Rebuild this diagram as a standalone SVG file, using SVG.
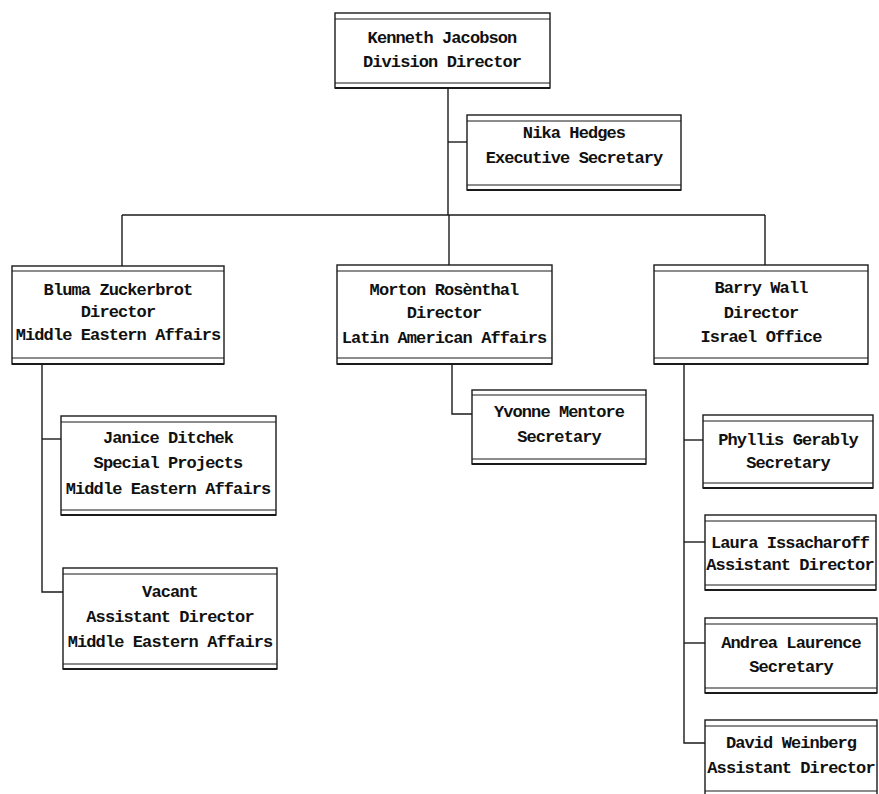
<svg xmlns="http://www.w3.org/2000/svg" width="879" height="794" viewBox="0 0 879 794">
<style>
  .bg { fill: #ffffff; }
  .box { fill: #ffffff; stroke: #1a1a1a; stroke-width: 1.4; }
  .rule { stroke: #1a1a1a; stroke-width: 1.1; fill: none; }
  .base { stroke: #1a1a1a; stroke-width: 2; fill: none; }
  .conn { stroke: #1a1a1a; stroke-width: 1.4; fill: none; }
  text { font-family: "Liberation Mono", "DejaVu Sans Mono", monospace; font-size: 17px; letter-spacing: -0.9px; font-weight: bold; fill: #111111; text-anchor: middle; }
</style>
<rect class="bg" x="0" y="0" width="879" height="794"/>

<g id="connectors">
  <path class="conn" d="M448,88 V215"/>
  <path class="conn" d="M448,142 H467"/>
  <path class="conn" d="M122,215 H765"/>
  <path class="conn" d="M122,215 V267"/>
  <path class="conn" d="M449,215 V265"/>
  <path class="conn" d="M765,215 V265"/>
  <path class="conn" d="M42,364 V592 H63"/>
  <path class="conn" d="M42,439 H61"/>
  <path class="conn" d="M452,364 V414 H472"/>
  <path class="conn" d="M684,364 V743 H705"/>
  <path class="conn" d="M684,440 H703"/>
  <path class="conn" d="M684,542 H705"/>
  <path class="conn" d="M684,643 H705"/>
</g>

<g id="kenneth">
  <rect class="box" x="335" y="13" width="215" height="75"/>
  <line class="rule" x1="335" y1="19" x2="550" y2="19"/>
  <line class="rule" x1="335" y1="83" x2="550" y2="83"/>
  <line class="base" x1="335" y1="88" x2="550" y2="88"/>
  <text x="442" y="43">Kenneth Jacobson</text>
  <text x="442" y="67">Division Director</text>
</g>

<g id="nika">
  <rect class="box" x="467" y="115" width="214" height="75"/>
  <line class="rule" x1="467" y1="121" x2="681" y2="121"/>
  <line class="rule" x1="467" y1="185" x2="681" y2="185"/>
  <line class="base" x1="467" y1="190" x2="681" y2="190"/>
  <text x="574" y="138">Nika Hedges</text>
  <text x="574" y="163">Executive Secretary</text>
</g>

<g id="bluma">
  <rect class="box" x="12" y="266" width="212" height="98"/>
  <line class="rule" x1="12" y1="271" x2="224" y2="271"/>
  <line class="rule" x1="12" y1="358" x2="224" y2="358"/>
  <line class="base" x1="12" y1="364" x2="224" y2="364"/>
  <text x="118" y="295">Bluma Zuckerbrot</text>
  <text x="118" y="317">Director</text>
  <text x="118" y="340">Middle Eastern Affairs</text>
</g>

<g id="morton">
  <rect class="box" x="337" y="265" width="215" height="99"/>
  <line class="rule" x1="337" y1="271" x2="552" y2="271"/>
  <line class="rule" x1="337" y1="358" x2="552" y2="358"/>
  <line class="base" x1="337" y1="364" x2="552" y2="364"/>
  <text x="444" y="295">Morton Rosènthal</text>
  <text x="444" y="318">Director</text>
  <text x="444" y="343">Latin American Affairs</text>
</g>

<g id="barry">
  <rect class="box" x="654" y="265" width="214" height="99"/>
  <line class="rule" x1="654" y1="271" x2="868" y2="271"/>
  <line class="rule" x1="654" y1="358" x2="868" y2="358"/>
  <line class="base" x1="654" y1="364" x2="868" y2="364"/>
  <text x="761" y="293">Barry Wall</text>
  <text x="761" y="318">Director</text>
  <text x="761" y="342">Israel Office</text>
</g>

<g id="yvonne">
  <rect class="box" x="472" y="390" width="174" height="74"/>
  <line class="rule" x1="472" y1="395" x2="646" y2="395"/>
  <line class="rule" x1="472" y1="459" x2="646" y2="459"/>
  <line class="base" x1="472" y1="464" x2="646" y2="464"/>
  <text x="559" y="417">Yvonne Mentore</text>
  <text x="559" y="442">Secretary</text>
</g>

<g id="janice">
  <rect class="box" x="61" y="416" width="215" height="99"/>
  <line class="rule" x1="61" y1="422" x2="276" y2="422"/>
  <line class="rule" x1="61" y1="510" x2="276" y2="510"/>
  <line class="base" x1="61" y1="515" x2="276" y2="515"/>
  <text x="168" y="443">Janice Ditchek</text>
  <text x="168" y="468">Special Projects</text>
  <text x="168" y="494">Middle Eastern Affairs</text>
</g>

<g id="vacant">
  <rect class="box" x="63" y="568" width="214" height="101"/>
  <line class="rule" x1="63" y1="574" x2="277" y2="574"/>
  <line class="rule" x1="63" y1="664" x2="277" y2="664"/>
  <line class="base" x1="63" y1="669" x2="277" y2="669"/>
  <text x="170" y="597">Vacant</text>
  <text x="170" y="622">Assistant Director</text>
  <text x="170" y="647">Middle Eastern Affairs</text>
</g>

<g id="phyllis">
  <rect class="box" x="703" y="415" width="170" height="73"/>
  <line class="rule" x1="703" y1="421" x2="873" y2="421"/>
  <line class="rule" x1="703" y1="483" x2="873" y2="483"/>
  <line class="base" x1="703" y1="488" x2="873" y2="488"/>
  <text x="788" y="445">Phyllis Gerably</text>
  <text x="788" y="468">Secretary</text>
</g>

<g id="laura">
  <rect class="box" x="705" y="515" width="171" height="75"/>
  <line class="rule" x1="705" y1="521" x2="876" y2="521"/>
  <line class="rule" x1="705" y1="585" x2="876" y2="585"/>
  <line class="base" x1="705" y1="590" x2="876" y2="590"/>
  <text x="790" y="548">Laura Issacharoff</text>
  <text x="790" y="570">Assistant Director</text>
</g>

<g id="andrea">
  <rect class="box" x="705" y="618" width="172" height="75"/>
  <line class="rule" x1="705" y1="624" x2="877" y2="624"/>
  <line class="rule" x1="705" y1="688" x2="877" y2="688"/>
  <line class="base" x1="705" y1="693" x2="877" y2="693"/>
  <text x="791" y="648">Andrea Laurence</text>
  <text x="791" y="672">Secretary</text>
</g>

<g id="david">
  <rect class="box" x="705" y="720" width="172" height="80"/>
  <line class="rule" x1="705" y1="726" x2="877" y2="726"/>
  <line class="rule" x1="705" y1="791" x2="877" y2="791"/>
  <text x="791" y="748">David Weinberg</text>
  <text x="791" y="773">Assistant Director</text>
</g>
</svg>
